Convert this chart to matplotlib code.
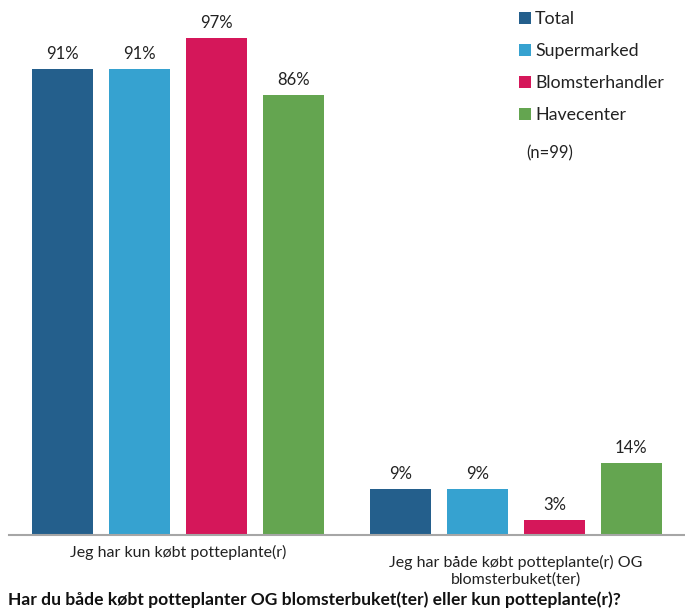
import matplotlib
matplotlib.use("Agg")
import matplotlib.pyplot as plt
import matplotlib.transforms as mtransforms
import numpy as np

plt.rcParams['font.family'] = ['Lato', 'DejaVu Sans']

categories = ["Jeg har kun købt potteplante(r)",
              "Jeg har både købt potteplante(r) OG\nblomsterbuket(ter)"]
series = ["Total", "Supermarked", "Blomsterhandler", "Havecenter"]
values = {
    "Total": [91, 9],
    "Supermarked": [91, 9],
    "Blomsterhandler": [97, 3],
    "Havecenter": [86, 14],
}
colors = ["#245F8C", "#36A2D0", "#D5175A", "#64A550"]
title = "Har du både købt potteplanter OG blomsterbuket(ter) eller kun potteplante(r)?"
note = "(n=99)"

W, H = 685, 609
fig = plt.figure(figsize=(W / 100, H / 100), dpi=100)
ax = fig.add_axes([9 / W, (H - 535) / H, 676 / W, 512 / H])

x = np.arange(len(categories))
step = 0.227
width = 0.18
offsets = (np.arange(len(series)) - 1.5) * step

handles = []
for i, name in enumerate(series):
    bars = ax.bar(x + offsets[i], values[name], width=width, color=colors[i],
                  label=name, zorder=2)
    handles.append(bars)
    for xi, v in zip(x + offsets[i], values[name]):
        ax.annotate(f"{v}%", (xi, v), xytext=(0, 5), textcoords="offset points",
                    ha="center", va="bottom", fontsize=12, color="#222222")

ax.set_xlim(-0.5, len(categories) - 0.5)
ax.set_ylim(0, 100)
for s in ["top", "right", "left"]:
    ax.spines[s].set_visible(False)
ax.spines["bottom"].set_color("#A6A6A6")
ax.spines["bottom"].set_linewidth(1.5)
ax.set_xticks([])
ax.set_yticks([])

# category labels below the axis
trans = mtransforms.blended_transform_factory(ax.transData, fig.transFigure)
label_y = [(H - 552) / H, (H - 571) / H]
for xi, cat, ly in zip(x, categories, label_y):
    ax.text(xi, ly, cat, transform=trans, ha="center", va="center",
            fontsize=11.5, color="#222222", linespacing=1.2)

fig.text(8 / W, (H - 600) / H, title, ha="left", va="center",
         fontsize=12.6, fontweight="bold", color="#111111")

leg = fig.legend(handles=handles, loc="upper left",
                 bbox_to_anchor=(503 / W, 1 + 5 / H), frameon=False,
                 fontsize=12.8, handlelength=0.65, handleheight=0.65,
                 handletextpad=0.25, labelspacing=0.9)
for t in leg.get_texts():
    t.set_color("#222222")

fig.text(526 / W, (H - 153) / H, note, ha="left", va="center",
         fontsize=12, color="#222222")

fig.savefig("out.png", dpi=100)
